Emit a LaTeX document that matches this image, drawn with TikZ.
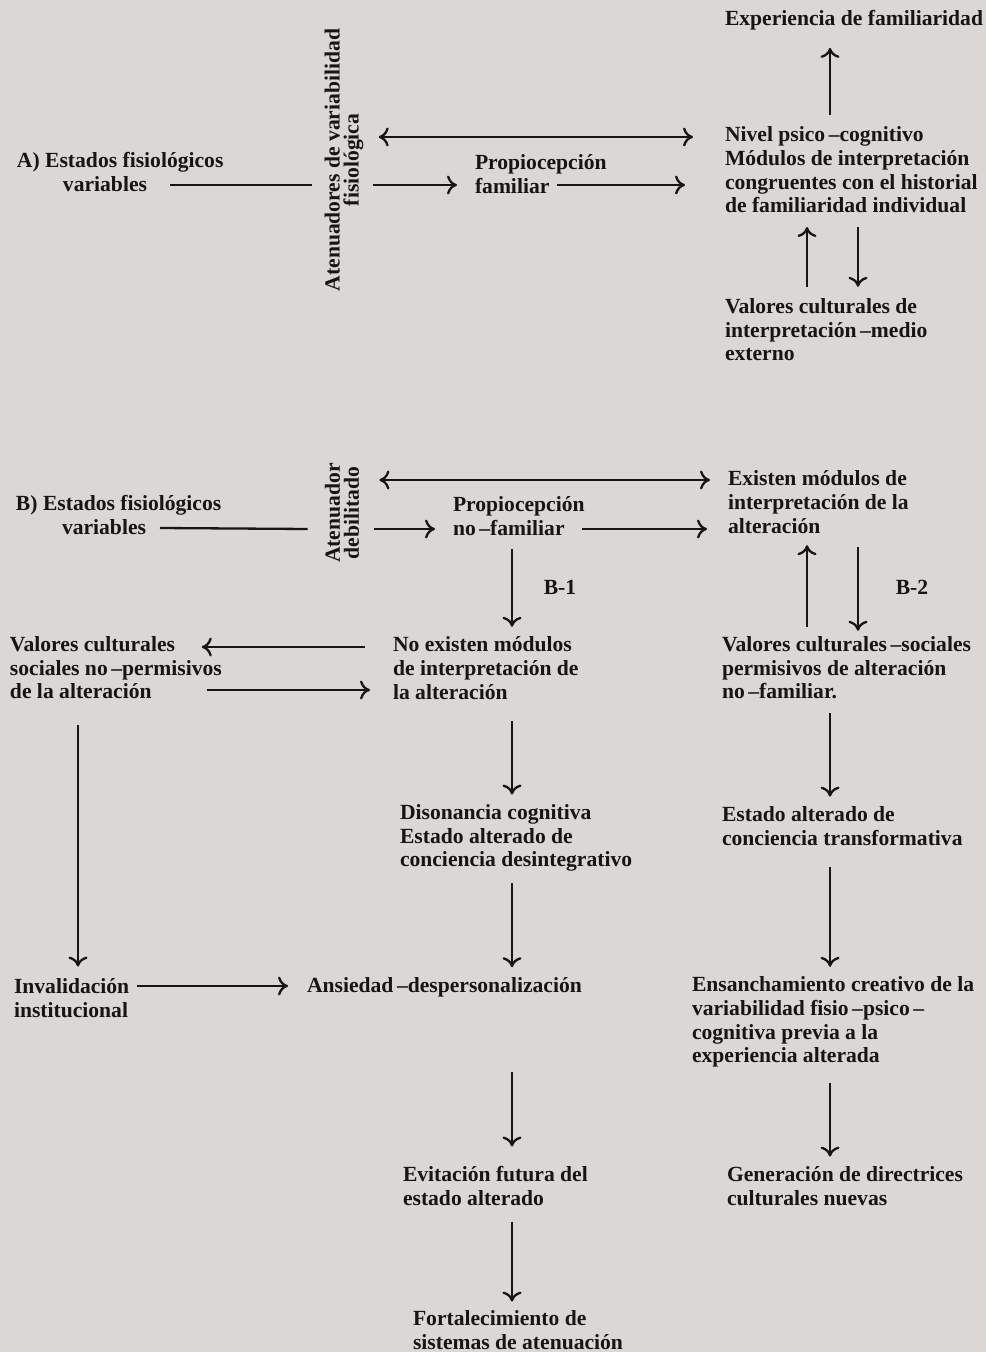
\documentclass[tikz,border=0pt]{standalone}
\usepackage{fontspec}
\setmainfont{Liberation Serif}
\usetikzlibrary{arrows.meta,calc}
\definecolor{paper}{RGB}{218,215,212}
\definecolor{ink}{RGB}{22,20,20}
\begin{document}
\begin{tikzpicture}[x=0.5pt,y=-0.5pt,
  txt/.style={anchor=west,inner sep=0pt,outer sep=0pt,align=left,text=ink,
    font=\fontsize{10.8}{11.8}\selectfont\bfseries},
  vtxt/.style={anchor=center,inner sep=0pt,align=center,rotate=90,text=ink,
    font=\fontsize{10.8}{9.4}\selectfont\bfseries},
  lab/.style={anchor=center,inner sep=0pt,text=ink,font=\fontsize{10.8}{11.8}\selectfont\bfseries},
  conn/.style={draw=ink,line width=1.15pt},
  tip/.tip={To[length=5pt,width=9.5pt,line width=1.15pt]},
  arr/.style={conn,-tip},
  dbl/.style={conn,tip-tip}]
\fill[paper] (0,0) rectangle (986,1352);
\useasboundingbox (0,0) rectangle (986,1352);

% ---- nodes ----
\node[txt] (expfam) at (725,20) {Experiencia de familiaridad};
\node[txt] (nivel) at (725,170) {Nivel psico\,--cognitivo\\M\'odulos de interpretaci\'on\\congruentes con el historial\\de familiaridad individual};
\node[txt] (valext) at (725,330) {Valores culturales de\\interpretaci\'on\,--medio\\externo};
\node[txt] (aest) at (17,172) {A) Estados fisiol\'ogicos\\\hspace*{23pt}variables};
\node[vtxt] (aten) at (344,160) {Atenuadores de variabilidad\\fisiol\'ogica};
\node[txt] (propfam) at (475,174) {Propiocepci\'on\\familiar};

\node[txt] (best) at (16,515) {B) Estados fisiol\'ogicos\\\hspace*{23pt}variables};
\node[vtxt] (atdeb) at (342,513) {Atenuador\\debilitado};
\node[txt] (propnf) at (453,516) {Propiocepci\'on\\no\,--familiar};
\node[txt] (existen) at (728,502) {Existen m\'odulos de\\interpretaci\'on de la\\alteraci\'on};
\node[lab] (b1) at (560,587) {B-1};
\node[lab] (b2) at (912,587) {B-2};

\node[txt] (valnoperm) at (10,668) {Valores culturales\\sociales no\,--permisivos\\de la alteraci\'on};
\node[txt] (noexist) at (393,668) {No existen m\'odulos\\de interpretaci\'on de\\la alteraci\'on};
\node[txt] (valperm) at (722,668) {Valores culturales\,--sociales\\permisivos de alteraci\'on\\no\,--familiar.};

\node[txt] (disonancia) at (400,838) {Disonancia cognitiva\\Estado alterado de\\conciencia desintegrativo};
\node[txt] (estalt) at (722,826) {Estado alterado de\\conciencia transformativa};

\node[txt] (inval) at (14,998) {Invalidaci\'on\\institucional};
\node[txt] (ansiedad) at (307,987) {Ansiedad\,--despersonalizaci\'on};
\node[txt] (ensanch) at (692,1022) {Ensanchamiento creativo de la\\variabilidad fisio\,--psico\,--\\cognitiva previa a la\\experiencia alterada};

\node[txt] (evit) at (403,1186) {Evitaci\'on futura del\\estado alterado};
\node[txt] (gener) at (727,1186) {Generaci\'on de directrices\\culturales nuevas};
\node[txt] (fortal) at (413,1330) {Fortalecimiento de\\sistemas de atenuaci\'on};

% ---- coordinates for connector levels / columns ----
\coordinate (cR) at (830,0);
\coordinate (cRa) at (807,0);
\coordinate (cRb) at (858,0);
\coordinate (cC) at (512,0);
\coordinate (cL) at (78,0);
\coordinate (yA) at (0,137);
\coordinate (yB) at (0,185);
\coordinate (yC) at (0,480);
\coordinate (yD) at (0,529);
\coordinate (yE) at (0,647);
\coordinate (yF) at (0,690);
\coordinate (yG) at (0,986);
\coordinate (famEnd) at (557,185);
\coordinate (nfEnd) at (582,529);
\coordinate (varA) at (170,185);
\coordinate (varB) at (160,528);

% ---- connectors ----
% (rotated labels: .north is their left side, .south their right side)
\draw[arr] ($(nivel.north -| cR)+(0,-12)$) -- ($(expfam.south -| cR)+(0,18)$);
\draw[dbl] ($(aten.south |- yA)+(15,0)$) -- ($(nivel.west |- yA)+(-32,0)$);
\draw[conn] (varA) -- ($(aten.north |- yB)+(-12,0)$);
\draw[arr] ($(aten.south |- yB)+(9,0)$) -- ($(propfam.west |- yB)+(-18,0)$);
\draw[arr] (famEnd) -- ($(nivel.west |- yB)+(-40,0)$);
\draw[arr] ($(valext.north -| cRa)+(0,-12)$) -- ($(nivel.south -| cRa)+(0,14)$);
\draw[arr] ($(nivel.south -| cRb)+(0,14)$) -- ($(valext.north -| cRb)+(0,-12)$);

\draw[dbl] ($(atdeb.south |- yC)+(20,0)$) -- ($(existen.west |- yC)+(-18,0)$);
\draw[conn] (varB) -- ($(atdeb.north |- yD)+(-17,0)$);
\draw[arr] ($(atdeb.south |- yD)+(15,0)$) -- ($(propnf.west |- yD)+(-18,0)$);
\draw[arr] (nfEnd) -- ($(existen.west |- yD)+(-21,0)$);
\draw[arr] ($(propnf.south -| cC)+(0,14)$) -- ($(noexist.north -| cC)+(0,-10)$);
\draw[arr] ($(valperm.north -| cRa)+(0,-10)$) -- ($(existen.south -| cRa)+(0,12)$);
\draw[arr] ($(existen.south -| cRb)+(0,14)$) -- ($(valperm.north -| cRb)+(0,-6)$);

\draw[arr] ($(noexist.west |- yE)+(-28,0)$) -- ($(valnoperm.east |- yE)+(-20,0)$);
\draw[arr] ($(valnoperm.east |- yF)+(-15,0)$) -- ($(noexist.west |- yF)+(-23,0)$);

\draw[arr] ($(valnoperm.south -| cL)+(0,26)$) -- ($(inval.north -| cL)+(0,-12)$);
\draw[arr] ($(noexist.south -| cC)+(0,22)$) -- ($(disonancia.north -| cC)+(0,-10)$);
\draw[arr] ($(valperm.south -| cR)+(0,14)$) -- ($(estalt.north -| cR)+(0,-10)$);
\draw[arr] ($(inval.north west |- yG)+(123,0)$) -- ($(ansiedad.west |- yG)+(-19,0)$);
\draw[arr] ($(disonancia.south -| cC)+(0,12)$) -- ($(ansiedad.north -| cC)+(0,-10)$);
\draw[arr] ($(estalt.south -| cR)+(0,22)$) -- ($(ensanch.north -| cR)+(0,-10)$);
\draw[arr] ($(ansiedad.south -| cC)+(0,75)$) -- ($(evit.north -| cC)+(0,-20)$);
\draw[arr] ($(ensanch.south -| cR)+(0,16)$) -- ($(gener.north -| cR)+(0,-10)$);
\draw[arr] ($(evit.south -| cC)+(0,16)$) -- ($(fortal.north -| cC)+(0,-9)$);
\end{tikzpicture}
\end{document}
